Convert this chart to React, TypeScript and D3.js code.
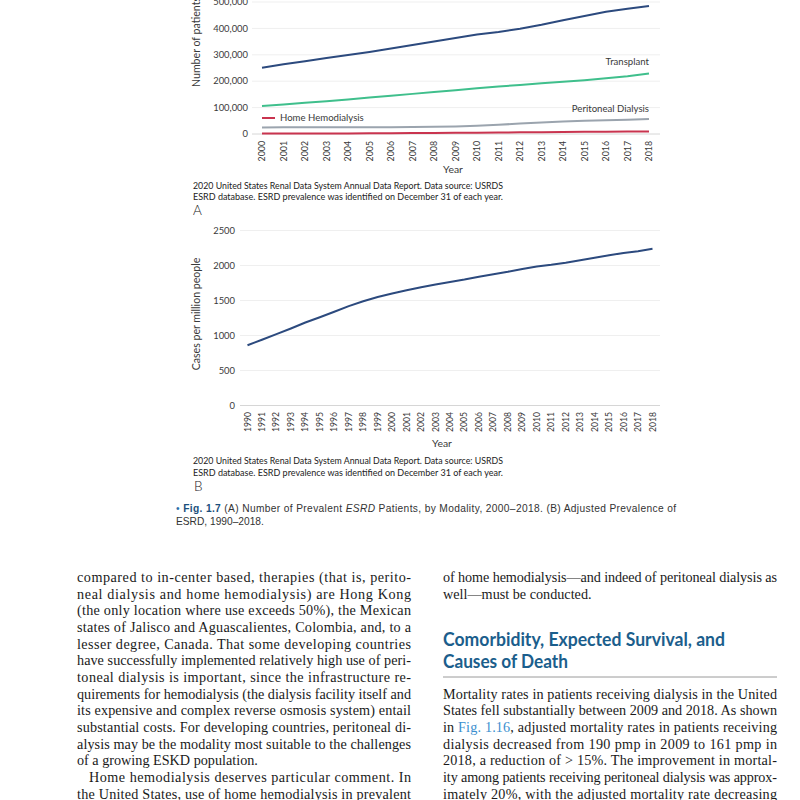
import React from "react";
import * as d3 from "d3";

// ---------- Data ----------
const yearsA = [2000, 2001, 2002, 2003, 2004, 2005, 2006, 2007, 2008, 2009, 2010, 2011, 2012, 2013, 2014, 2015, 2016, 2017, 2018];
const hemodialysis = [251000, 264000, 276000, 288000, 299000, 311000, 324000, 337000, 350000, 364000, 377000, 386000, 399000, 414000, 431000, 447000, 463000, 474000, 485000];
const transplant = [106000, 112000, 118000, 124000, 131000, 138000, 145000, 152000, 159000, 166000, 173000, 180000, 186000, 192000, 198000, 204000, 211000, 219000, 229000];
const peritoneal = [25000, 25500, 26000, 26000, 26000, 26000, 26000, 26500, 27000, 28500, 31500, 35000, 39500, 43500, 47000, 50000, 52000, 54000, 57000];
const homeHemo = [1500, 1500, 1700, 1900, 2200, 2600, 3000, 3400, 3800, 4300, 4800, 5400, 6200, 7000, 7700, 8300, 8800, 9300, 9800];
const ticksA = [0, 100000, 200000, 300000, 400000, 500000];

const yearsB = [1990, 1991, 1992, 1993, 1994, 1995, 1996, 1997, 1998, 1999, 2000, 2001, 2002, 2003, 2004, 2005, 2006, 2007, 2008, 2009, 2010, 2011, 2012, 2013, 2014, 2015, 2016, 2017, 2018];
const prevalence = [860, 940, 1020, 1100, 1185, 1260, 1340, 1420, 1490, 1550, 1600, 1645, 1690, 1730, 1765, 1800, 1840, 1875, 1910, 1950, 1985, 2010, 2040, 2075, 2110, 2145, 2180, 2205, 2240];
const ticksB = [0, 500, 1000, 1500, 2000, 2500];

const sourceLines = [
  "2020 United States Renal Data System Annual Data Report. Data source: USRDS",
  "ESRD database. ESRD prevalence was identified on December 31 of each year.",
];

const leftCol = [
  { t: "compared to in-center based, therapies (that is, perito-", j: true },
  { t: "neal dialysis and home hemodialysis) are Hong Kong", j: true },
  { t: "(the only location where use exceeds 50%), the Mexican", j: true },
  { t: "states of Jalisco and Aguascalientes, Colombia, and, to a", j: true },
  { t: "lesser degree, Canada. That some developing countries", j: true },
  { t: "have successfully implemented relatively high use of peri-", j: true },
  { t: "toneal dialysis is important, since the infrastructure re-", j: true },
  { t: "quirements for hemodialysis (the dialysis facility itself and", j: true },
  { t: "its expensive and complex reverse osmosis system) entail", j: true },
  { t: "substantial costs. For developing countries, peritoneal di-", j: true },
  { t: "alysis may be the modality most suitable to the challenges", j: true },
  { t: "of a growing ESKD population.", j: false },
  { t: "Home hemodialysis deserves particular comment. In", j: true, indent: true },
  { t: "the United States, use of home hemodialysis in prevalent", j: true },
];

const rightTop = [
  { t: "of home hemodialysis\u2014and indeed of peritoneal dialysis as", j: true },
  { t: "well\u2014must be conducted.", j: false },
];
const heading = ["Comorbidity, Expected Survival, and", "Causes of Death"];
const rightPara = [
  "Mortality rates in patients receiving dialysis in the United",
  "States fell substantially between 2009 and 2018. As shown",
  "in |Fig. 1.16|, adjusted mortality rates in patients receiving",
  "dialysis decreased from 190 pmp in 2009 to 161 pmp in",
  "2018, a reduction of > 15%. The improvement in mortal-",
  "ity among patients receiving peritoneal dialysis was approx-",
  "imately 20%, with the adjusted mortality rate decreasing",
];

// ---------- Styles ----------
const NAVY = "#2c4a7e";
const GREEN = "#3fbf8c";
const GRAY = "#9ba4ae";
const RED = "#c9344f";
const TXT = "#3a3a3a";
const SANS = "Lato, 'Open Sans', sans-serif";
const SERIF = "'Liberation Serif', 'DejaVu Serif', serif";

export default function App() {
  // Chart A
  const xA = d3.scalePoint<number>().domain(yearsA).range([262, 649]);
  const yA = d3.scaleLinear().domain([0, 500000]).range([134, 2]);
  const lineA = (vals: number[]) =>
    d3.line<number>().x((_, i) => xA(yearsA[i]) as number).y((v) => yA(v))(vals) || "";
  const fmt = d3.format(",");

  // Chart B
  const xB = d3.scalePoint<number>().domain(yearsB).range([247.5, 652.5]);
  const yB = d3.scaleLinear().domain([0, 2500]).range([405.5, 230.5]);
  const lineB = d3.line<number>().x((_, i) => xB(yearsB[i]) as number).y((v) => yB(v))(prevalence) || "";

  const lh = 16.67;
  const base0 = 582;
  const colL = 77, colR = 443, colW = 334;

  return (
    <svg width={800} height={800} style={{ position: "absolute", left: 0, top: 0, background: "#fff" }}>
      <rect width={800} height={800} fill="#fff" />
      {/* ===== Chart A ===== */}
      <g>
        {ticksA.map((t) => (
          <g key={t}>
            <line x1={252} x2={660} y1={yA(t)} y2={yA(t)} stroke={t === 0 ? "#d6d6d6" : "#efefef"} strokeWidth={1} />
            <text x={248} y={yA(t)} dy="0.35em" textAnchor="end" fontFamily={SANS} fontSize={9.4} fill={TXT}>
              {fmt(t)}
            </text>
          </g>
        ))}
        {yearsA.map((yr) => (
          <text key={yr} transform={`translate(${xA(yr)},${141}) rotate(-90)`} dy="0.35em" textAnchor="end" fontFamily={SANS} fontSize={8.8} fill={TXT}>
            {yr}
          </text>
        ))}
        <text transform="translate(200,87) rotate(-90)" textAnchor="start" fontFamily={SANS} fontSize={10.6} fill={TXT}>
          Number of patients
        </text>
        <text x={453} y={173} textAnchor="middle" fontFamily={SANS} fontSize={10.4} fill={TXT}>Year</text>
        <path d={lineA(homeHemo)} fill="none" stroke={RED} strokeWidth={2} />
        <path d={lineA(peritoneal)} fill="none" stroke={GRAY} strokeWidth={2} />
        <path d={lineA(transplant)} fill="none" stroke={GREEN} strokeWidth={2} />
        <path d={lineA(hemodialysis)} fill="none" stroke={NAVY} strokeWidth={2} />
        <text x={649} y={62} dy="0.35em" textAnchor="end" fontFamily={SANS} fontSize={9.6} fill={TXT}>Transplant</text>
        <text x={649} y={109} dy="0.35em" textAnchor="end" fontFamily={SANS} fontSize={9.6} fill={TXT}>Peritoneal Dialysis</text>
        <line x1={262} x2={275} y1={118} y2={118} stroke={RED} strokeWidth={2} />
        <text x={280} y={118} dy="0.35em" fontFamily={SANS} fontSize={9.6} fill={TXT}>Home Hemodialysis</text>
        {sourceLines.map((s, i) => (
          <text key={i} x={193} y={188.5 + i * 11.5} fontFamily={SANS} fontSize={9} fill="#222" textLength={310} lengthAdjust="spacingAndGlyphs">{s}</text>
        ))}
        <text x={193} y={215} fontFamily={SANS} fontSize={13.5} fontWeight={300} fill="#222">A</text>
      </g>

      {/* ===== Chart B ===== */}
      <g>
        {ticksB.map((t) => (
          <g key={t}>
            <line x1={240} x2={660} y1={yB(t)} y2={yB(t)} stroke={t === 0 ? "#d6d6d6" : "#efefef"} strokeWidth={1} />
            <text x={235} y={yB(t)} dy="0.35em" textAnchor="end" fontFamily={SANS} fontSize={9.4} fill={TXT}>
              {t}
            </text>
          </g>
        ))}
        {yearsB.map((yr) => (
          <text key={yr} transform={`translate(${xB(yr)},${412}) rotate(-90)`} dy="0.35em" textAnchor="end" fontFamily={SANS} fontSize={8.6} fill={TXT}>
            {yr}
          </text>
        ))}
        <text transform="translate(200,314) rotate(-90)" textAnchor="middle" fontFamily={SANS} fontSize={10.6} fill={TXT}>
          Cases per million people
        </text>
        <text x={442} y={447} textAnchor="middle" fontFamily={SANS} fontSize={10.4} fill={TXT}>Year</text>
        <path d={lineB} fill="none" stroke={NAVY} strokeWidth={2} />
        {sourceLines.map((s, i) => (
          <text key={i} x={193} y={463.5 + i * 12} fontFamily={SANS} fontSize={9} fill="#222" textLength={310} lengthAdjust="spacingAndGlyphs">{s}</text>
        ))}
        <text x={194} y={491} fontFamily={SANS} fontSize={13.5} fontWeight={300} fill="#222">B</text>
      </g>

      {/* ===== Figure caption ===== */}
      <g fontFamily="'Liberation Sans', Arial, sans-serif" fontSize={10.2} fill="#333">
        <text x={176} y={512} textLength={500} lengthAdjust="spacing">
          <tspan fill="#2b6fa8">{"\u2022 "}</tspan>
          <tspan fontWeight="bold" fill="#1b4f7c">Fig. 1.7</tspan>
          <tspan>{" (A) Number of Prevalent "}</tspan>
          <tspan fontStyle="italic">ESRD</tspan>
          <tspan>{" Patients, by Modality, 2000\u20132018. (B) Adjusted Prevalence of"}</tspan>
        </text>
        <text x={176} y={525}>{"ESRD, 1990\u20132018."}</text>
      </g>

      {/* ===== Body text ===== */}
      <g fontFamily={SERIF} fontSize={14.2} fill="#1a1a1a">
        {leftCol.map((l, i) => {
          const x = l.indent ? colL + 12 : colL;
          const w = l.indent ? colW - 12 : colW;
          return (
            <text key={i} x={x} y={base0 + i * lh} {...(l.j ? { textLength: w, lengthAdjust: "spacing" } : {})}>
              {l.t}
            </text>
          );
        })}
        {rightTop.map((l, i) => (
          <text key={i} x={colR} y={base0 + i * lh} {...(l.j ? { textLength: colW, lengthAdjust: "spacing" } : {})}>
            {l.t}
          </text>
        ))}
        {rightPara.map((l, i) => {
          const parts = l.split("|");
          return (
            <text key={i} x={colR} y={base0 + (i + 7) * lh} textLength={colW} lengthAdjust="spacing">
              {parts.map((p, k) => (
                <tspan key={k} fill={k === 1 ? "#3b8fcf" : "#1a1a1a"}>{p}</tspan>
              ))}
            </text>
          );
        })}
      </g>
      <g fontFamily={SANS} fontWeight={700} fill="#1b5e8c" fontSize={18}>
        <text x={colR} y={646} textLength={282} lengthAdjust="spacingAndGlyphs">{heading[0]}</text>
        <text x={colR} y={668} textLength={125} lengthAdjust="spacingAndGlyphs">{heading[1]}</text>
      </g>
      <line x1={colR} x2={colR + colW} y1={677} y2={677} stroke="#9a9a9a" strokeWidth={1} />
    </svg>
  );
}
